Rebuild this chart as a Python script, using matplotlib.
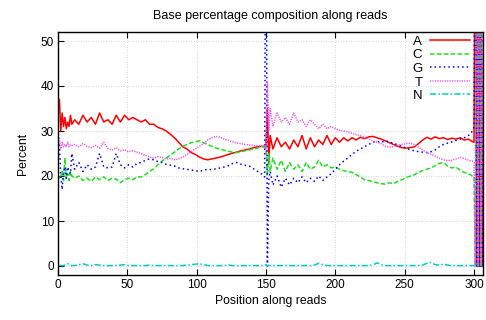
import matplotlib
matplotlib.use("Agg")
import matplotlib.pyplot as plt

plt.rcParams['font.family'] = ['Liberation Sans', 'DejaVu Sans']

positions = (list(range(1, 11)) + list(range(12, 148, 3)) + [149, 150, 151, 152, 153]
             + list(range(155, 300, 3)) + [300, 301, 302, 303, 304, 305, 306])

A = [37, 30, 34, 31, 33, 30.5, 32, 31, 33.5, 31.5,
     32.5, 31.5, 33.5, 32, 33, 31.5, 34, 32, 32.5, 31.5, 33.5, 32, 33.5, 32.5, 33, 32.5,
     32, 32.5, 31.5, 31.5, 30.8, 30.5, 30, 29.3, 28.5, 27.5, 26.5, 26, 25.2, 24.8, 24.2,
     23.8, 23.6, 23.8, 24, 24.2, 24.5, 24.8, 25.1, 25.3, 25.6, 25.8, 26, 26.3, 26.5, 26.6,
     26.5, 26.8, 35, 23, 29,
     26, 28.5, 26.5, 27.5, 26, 28, 26.5, 29, 26, 28.5, 26.5, 28, 27, 29, 27, 28.5, 27.5,
     28.5, 27.8, 28.5, 28, 28.6, 28.3, 28.7, 28.8, 28.5, 28.2, 27.8, 27.4, 27, 26.6, 26.3,
     26.2, 26.3, 26.5, 27.2, 28, 28.6, 28.2, 28.7, 28.3, 28.5, 28.1, 28.4, 28.2, 28.5, 28,
     28.2, 27.6,
     27.5, 100, 0, 100, 0, 100, 0]

C = [19.5, 20, 21, 19, 24, 19.5, 20.5, 19, 21, 20,
     19.5, 20, 19, 19.5, 18.8, 19.8, 19.2, 19.8, 19, 19.5, 19.3, 18.5, 19.2, 19.5, 19.2,
     19.8, 19.8, 20.3, 21, 21.6, 22.5, 23.3, 24, 24.6, 25.3, 26, 26.6, 27, 27.4, 27.6, 27.8,
     27.4, 27, 26.6, 26.2, 26, 25.7, 25.5, 25.3, 25.2, 25.4, 25.6, 25.8, 26, 26.2, 26.5,
     26.5, 26, 20, 25, 21,
     24, 21.5, 23.5, 21, 23, 21.5, 22.5, 21, 23, 21.5, 22, 23.5, 22, 22.5, 21.8, 22, 21.5,
     21.2, 21, 20.8, 20.3, 19.8, 19.2, 19, 18.7, 18.5, 18.3, 18.2, 18.5, 18.3, 18.8, 19.2,
     19.6, 20, 20.3, 20.8, 21.2, 21.5, 21.8, 22.3, 22.8, 23, 22.2, 21.8, 22, 21.3, 20.8,
     20.5, 20,
     20, 0, 100, 0, 100, 0, 100]

G = [27, 20, 17, 21, 22, 19.5, 22, 21, 20.5, 25,
     21.5, 23, 21, 22.5, 21.5, 22, 25, 22, 21.8, 22, 25, 22.5, 21.8, 22.5, 22, 22.8,
     23, 23.5, 23.8, 23.6, 23.2, 23, 22.6, 22.4, 22.2, 21.8, 21.6, 21.5, 21.3, 21.2, 21,
     21.3, 21.5, 21.4, 21.6, 21.8, 22, 22.3, 22.8, 23, 22.6, 22.4, 22.2, 21.6, 21, 20.4,
     19.8, 100, 0, 19, 21,
     18, 20, 17.5, 19.5, 18, 19.5, 18.5, 19.8, 18.5, 19.5, 18.8, 20, 19, 19.8, 20.5, 21.5,
     22.5, 23.3, 24, 24.8, 25.5, 26, 26.5, 27, 27.5, 27.7, 27.5, 27.8, 27.6, 27.2, 27, 26.6,
     26.2, 25.8, 25.6, 25.4, 25.3, 25.2, 25.4, 25.8, 26.5, 27, 27.3, 27.6, 27.9, 28.2, 28.5,
     29, 30,
     31, 100, 0, 100, 0, 100, 0]

T = [28.5, 26, 27.5, 26.5, 27, 26.5, 27.5, 26.5, 27, 26.8,
     27, 26.5, 27.2, 26.6, 26.3, 26.8, 26.2, 27.5, 26.1, 25.8, 26.3, 25.6, 25.8, 25.4, 25.6,
     25.3, 25, 24.6, 24.2, 24, 24.3, 24.1, 23.8, 23.9, 23.6, 23.8, 24.2, 24.8, 25.4, 26, 26.6,
     27.2, 28, 28.5, 28.8, 28.6, 28.2, 27.9, 27.6, 27.3, 27.2, 27, 26.9, 26.8, 26.7, 26.6,
     26.8, 26, 41, 30, 35,
     31, 34, 32, 33, 31.5, 34, 32, 32.5, 31, 32.5, 31.5, 30.5, 31.5, 30.5, 31, 30.5, 30.2,
     30, 29.8, 29.5, 29.2, 29, 28.6, 28.3, 27.8, 27.5, 27.2, 26.6, 26.4, 26.5, 26.8, 27,
     27.2, 27.3, 27, 26.4, 25.8, 25.2, 24.8, 24.4, 24, 23.6, 23.4, 23.5, 23.8, 24.1, 23.9,
     23.5, 23.3,
     23, 0, 100, 0, 100, 0, 100]

N = [0.2, 0.1, 0.1, 0.1, 0.2, 0.3, 0.5, 0.4, 0.2, 0.1,
     0.1, 0.3, 0.5, 0.2, 0.1, 0.3, 0.2, 0.1, 0.1, 0.1, 0.1, 0.2, 0.3, 0.1, 0.1, 0.1,
     0.1, 0.1, 0.2, 0.1, 0.1, 0.1, 0.1, 0.1, 0.1, 0.1, 0.1, 0.2, 0.3, 0.4, 0.5,
     0.3, 0.1, 0.1, 0.1, 0.1, 0.1, 0.2, 0.1, 0.1, 0.1, 0.1, 0.1, 0.1, 0.1, 0.1,
     0.1, 0.3, 0.1, 0.1, 0.1,
     0.1, 0.1, 0.1, 0.1, 0.1, 0.1, 0.1, 0.1, 0.1, 0.1, 0.2, 0.6, 0.3, 0.1, 0.1, 0.1, 0.1,
     0.1, 0.1, 0.1, 0.1, 0.1, 0.1, 0.1, 0.2, 0.7, 0.3, 0.1, 0.1, 0.1, 0.1, 0.1,
     0.1, 0.1, 0.1, 0.1, 0.2, 0.6, 0.8, 0.3, 0.2, 0.4, 0.2, 0.1, 0.1, 0.1, 0.1,
     0.1, 0.1,
     0.1, 0.1, 0.1, 0.1, 0.1, 0.1, 0.1]

labels = ["A", "C", "G", "T", "N"]
x_ticks = [0, 50, 100, 150, 200, 250, 300]
y_ticks = [0, 10, 20, 30, 40, 50]

fig = plt.figure(figsize=(4.86, 3.2), dpi=100)
ax = fig.add_axes([58/486, 1-275/320, (483-58)/486, (275-32)/320])

styles = [
    dict(color='#ff0000', linestyle='-'),
    dict(color='#22dd22', dashes=(3, 1.5)),
    dict(color='#0000ff', dashes=(1, 2)),
    dict(color='#ee55ee', dashes=(0.8, 0.8)),
    dict(color='#00cccc', dashes=(4, 1.5, 1, 1.5)),
]
for series, lab, st in zip([A, C, G, T, N], labels, styles):
    ax.plot(positions, series, lw=1.1, label=lab, **st)

ax.set_xlim(0, 306.5)
ax.set_ylim(-2, 52)
ax.set_xticks(x_ticks)
ax.set_yticks(y_ticks)
ax.grid(True, color='#c8c8c8', linestyle=(0, (1, 2)), linewidth=0.6)
ax.tick_params(direction='in', top=True, right=True, length=4, width=0.8,
               labelsize=8.5, colors='black', pad=3)
for s in ax.spines.values():
    s.set_linewidth(1.0)

ax.set_title("Base percentage composition along reads", fontsize=9, pad=9)
ax.set_xlabel("Position along reads", fontsize=8.8, labelpad=3)
ax.set_ylabel("Percent", fontsize=8.8, labelpad=8)

ax.legend(loc='upper right', bbox_to_anchor=(0.969, 0.985), markerfirst=False,
          frameon=False, fontsize=9.5, handlelength=3.0, handletextpad=0.6,
          labelspacing=0.1, borderpad=0, borderaxespad=0)

fig.savefig("out.png", dpi=100)
